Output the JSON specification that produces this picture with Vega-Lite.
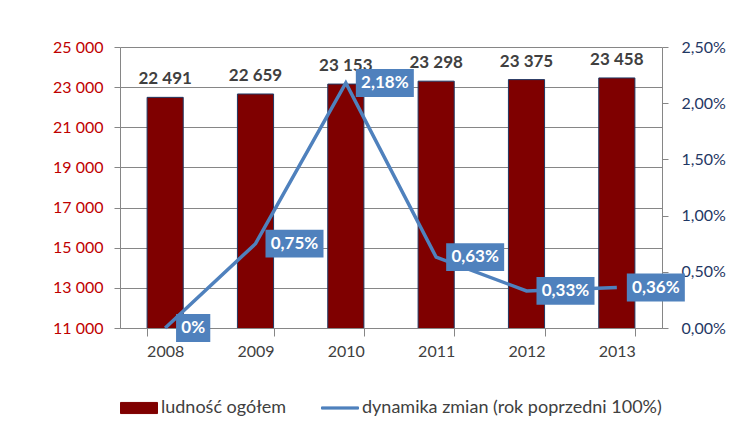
{
  "$schema": "https://vega.github.io/schema/vega-lite/v6.json",
  "width": 542,
  "height": 281,
  "autosize": {"type": "none"},
  "padding": {"left": 120, "top": 47, "right": 92, "bottom": 105},
  "background": "white",
  "config": {
    "view": {"stroke": null},
    "font": "Lato",
    "legend": {
      "orient": "bottom",
      "direction": "horizontal",
      "title": null,
      "labelFont": "Lato",
      "labelFontSize": 18,
      "labelColor": "#404040",
      "labelLimit": 500,
      "symbolSize": 1369,
      "labelOffset": 3,
      "columnPadding": 32,
      "offset": 30
    }
  },
  "data": {
    "values": [
      {"year": "2008", "pop": 22491, "dyn": 0},
      {"year": "2009", "pop": 22659, "dyn": 0.0075},
      {"year": "2010", "pop": 23153, "dyn": 0.0218},
      {"year": "2011", "pop": 23298, "dyn": 0.0063},
      {"year": "2012", "pop": 23375, "dyn": 0.0033},
      {"year": "2013", "pop": 23458, "dyn": 0.0036}
    ]
  },
  "transform": [
    {"calculate": "replace(format(datum.pop, ','), ',', ' ')", "as": "popLabel"},
    {"calculate": "datum.dyn == 0 ? '0%' : replace(format(datum.dyn, '.2%'), '.', ',')", "as": "dynLabel"}
  ],
  "encoding": {
    "x": {
      "field": "year",
      "type": "ordinal",
      "scale": {"paddingInner": 0.6, "paddingOuter": 0.3},
      "axis": {
        "title": null,
        "labelAngle": 0,
        "tickBand": "extent",
        "tickSize": 8,
        "domainColor": "#868686",
        "tickColor": "#868686",
        "labelColor": "#404040",
        "labelFontSize": 16,
        "labelPadding": 7
      }
    }
  },
  "layer": [
    {
      "encoding": {
        "y": {
          "field": "pop",
          "type": "quantitative",
          "scale": {"domain": [11000, 25000], "nice": false, "zero": false},
          "axis": {
            "title": null,
            "values": [11000, 13000, 15000, 17000, 19000, 21000, 23000, 25000],
            "labelExpr": "replace(format(datum.value, ','), ',', ' ')",
            "labelColor": "#C00000",
            "labelFontSize": 16,
            "labelPadding": 11,
            "tickSize": 6,
            "tickColor": "#868686",
            "domainColor": "#868686",
            "grid": true,
            "gridColor": "#868686",
            "gridWidth": 1
          }
        }
      },
      "layer": [
        {
          "mark": {"type": "bar", "stroke": "#1F3864", "strokeWidth": 1, "clip": true},
          "encoding": {
            "color": {
              "datum": "ludność ogółem",
              "type": "nominal",
              "scale": {
                "domain": ["ludność ogółem", "dynamika zmian (rok poprzedni 100%)"],
                "range": ["#7F0000", "#4F81BD"]
              },
              "legend": {
                "symbolType": "M-1,-0.3H1V0.3H-1Z",
                "encode": {
                  "symbols": {
                    "update": {
                      "shape": {"signal": "datum.value === 'ludność ogółem' ? 'M-1,-0.3H1V0.3H-1Z' : 'M-1,-0.06H1V0.06H-1Z'"},
                      "fill": {"signal": "datum.value === 'ludność ogółem' ? '#7F0000' : '#4F81BD'"},
                      "stroke": {"signal": "datum.value === 'ludność ogółem' ? '#1F3864' : '#4F81BD'"},
                      "strokeWidth": {"value": 1},
                      "opacity": {"value": 1},
                      "fillOpacity": {"value": 1}
                    }
                  }
                }
              }
            }
          }
        },
        {
          "mark": {"type": "text", "dy": -13, "baseline": "alphabetic", "fontWeight": "bold", "fontSize": 17, "color": "#404040"},
          "encoding": {"text": {"field": "popLabel"}}
        }
      ]
    },
    {
      "encoding": {
        "y": {
          "field": "dyn",
          "type": "quantitative",
          "scale": {"domain": [0, 0.025], "nice": false},
          "axis": {
            "title": null,
            "orient": "right",
            "values": [0, 0.005, 0.01, 0.015, 0.02, 0.025],
            "labelExpr": "replace(format(datum.value, '.2%'), '.', ',')",
            "labelColor": "#1F3864",
            "labelFontSize": 16,
            "labelPadding": 13,
            "tickSize": 6,
            "tickColor": "#868686",
            "domainColor": "#868686",
            "grid": false
          }
        }
      },
      "layer": [
        {
          "mark": {"type": "line", "strokeWidth": 3.5},
          "encoding": {
            "color": {
              "datum": "dynamika zmian (rok poprzedni 100%)",
              "type": "nominal",
              "legend": {
                "symbolType": "M-1,-0.3H1V0.3H-1Z",
                "encode": {
                  "symbols": {
                    "update": {
                      "shape": {"signal": "datum.value === 'ludność ogółem' ? 'M-1,-0.3H1V0.3H-1Z' : 'M-1,-0.06H1V0.06H-1Z'"},
                      "fill": {"signal": "datum.value === 'ludność ogółem' ? '#7F0000' : '#4F81BD'"},
                      "stroke": {"signal": "datum.value === 'ludność ogółem' ? '#1F3864' : '#4F81BD'"},
                      "strokeWidth": {"value": 1},
                      "opacity": {"value": 1},
                      "fillOpacity": {"value": 1}
                    }
                  }
                }
              }
            }
          }
        },
        {
          "transform": [{"filter": "datum.dyn > 0"}],
          "mark": {"type": "point", "shape": "M-1,-0.48H1V0.48H-1Z", "size": 3364, "filled": true, "opacity": 1, "color": "#4F81BD", "strokeWidth": 0, "xOffset": 39}
        },
        {
          "transform": [{"filter": "datum.dyn == 0"}],
          "mark": {"type": "point", "shape": "M-0.59,-0.48H0.59V0.48H-0.59Z", "size": 3364, "filled": true, "opacity": 1, "color": "#4F81BD", "strokeWidth": 0, "xOffset": 28}
        },
        {
          "transform": [{"filter": "datum.dyn > 0"}],
          "mark": {"type": "text", "xOffset": 39, "baseline": "middle", "fontWeight": "bold", "fontSize": 17, "color": "white"},
          "encoding": {"text": {"field": "dynLabel"}}
        },
        {
          "transform": [{"filter": "datum.dyn == 0"}],
          "mark": {"type": "text", "xOffset": 28, "baseline": "middle", "fontWeight": "bold", "fontSize": 17, "color": "white"},
          "encoding": {"text": {"field": "dynLabel"}}
        }
      ]
    }
  ],
  "resolve": {"scale": {"y": "independent"}}
}
